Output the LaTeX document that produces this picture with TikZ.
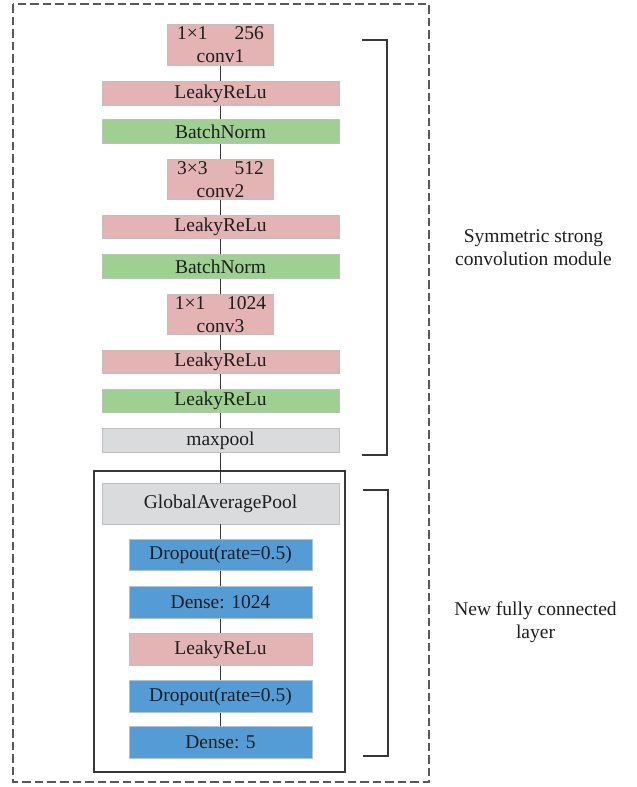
\documentclass[tikz,border=0pt]{standalone}
\usepackage{fontspec}
\setmainfont{Liberation Serif}
\definecolor{pinkc}{RGB}{228,179,179}
\definecolor{greenc}{RGB}{158,208,145}
\definecolor{grayc}{RGB}{218,219,221}
\definecolor{bluec}{RGB}{84,156,214}
\definecolor{linec}{RGB}{55,55,55}
\definecolor{textc}{RGB}{30,30,30}
\begin{document}
\begin{tikzpicture}[x=1pt,y=-1pt,
  base/.style={draw=black!25, line width=0.6pt, inner sep=0pt, align=center, text=textc,
    font=\fontsize{19.5}{23}\selectfont},
  pinkbox/.style={base, fill=pinkc},
  greenbox/.style={base, fill=greenc},
  graybox/.style={base, fill=grayc},
  bluebox/.style={base, fill=bluec},
  wide/.style={minimum width=237pt, minimum height=23.5pt},
  conv/.style={minimum width=106pt, minimum height=40.5pt},
  mid/.style={minimum width=183pt, minimum height=31.5pt},
  conn/.style={draw=linec, line width=1.3pt},
  lab/.style={align=center, text=textc, font=\fontsize{19.5}{23}\selectfont}]
\useasboundingbox (0,0) rectangle (637,787);
% outer dashed frame
\draw[draw=black!65, line width=1.3pt, dash pattern=on 8.5pt off 4pt] (13,4) rectangle (429,782);
% inner solid frame
\draw[draw=linec, line width=1.2pt] (94,471) rectangle (345,772);
% nodes
\node[pinkbox, conv] (c1) at (220.5,45) {1×1\hspace{27pt}256\\conv1};
\node[pinkbox, wide] (l1) at (220.5,93.5) {LeakyReLu};
\node[greenbox, wide] (b1) at (220.5,131.5) {BatchNorm};
\node[pinkbox, conv] (c2) at (220.5,179.5) {3×3\hspace{27pt}512\\conv2};
\node[pinkbox, wide] (l2) at (220.5,227) {LeakyReLu};
\node[greenbox, wide] (b2) at (220.5,266.5) {BatchNorm};
\node[pinkbox, conv] (c3) at (220.5,314.5) {1×1\hspace{22pt}1024\\conv3};
\node[pinkbox, wide] (l3) at (220.5,362) {LeakyReLu};
\node[greenbox, wide] (g3) at (220.5,401) {LeakyReLu};
\node[graybox, wide] (mp) at (220.5,440.5) {maxpool};
\node[graybox, minimum width=237pt, minimum height=41pt] (gap) at (220.5,503.5) {GlobalAveragePool};
\node[bluebox, mid] (d1) at (220.5,555) {Dropout(rate=0.5)};
\node[bluebox, mid] (dn1) at (220.5,602.5) {Dense: 1024};
\node[pinkbox, mid] (l4) at (220.5,649.5) {LeakyReLu};
\node[bluebox, mid] (d2) at (220.5,696.5) {Dropout(rate=0.5)};
\node[bluebox, mid] (dn5) at (220.5,742.5) {Dense: 5};
% connectors
\foreach \a/\b in {c1/l1,l1/b1,b1/c2,c2/l2,l2/b2,b2/c3,c3/l3,l3/g3,g3/mp,mp/gap,gap/d1,d1/dn1,dn1/l4,l4/d2,d2/dn5}
  \draw[conn] (\a.south) -- (\b.north);
% brackets
\coordinate (p1) at (362,40);
\coordinate (p2) at (387,40);
\coordinate (p3) at (387,455);
\coordinate (p4) at (362,455);
\draw[draw=linec, line width=1.2pt] (p1) -- (p2) -- (p3) -- (p4);
\coordinate (q1) at (363,490);
\coordinate (q2) at (388,490);
\coordinate (q3) at (388,756);
\coordinate (q4) at (363,756);
\draw[draw=linec, line width=1.2pt] (q1) -- (q2) -- (q3) -- (q4);
% labels
\node[lab] (t1) at (533.5,248) {Symmetric strong\\convolution module};
\node[lab] (t2) at (535.5,622) {New fully connected\\layer};
\end{tikzpicture}
\end{document}
